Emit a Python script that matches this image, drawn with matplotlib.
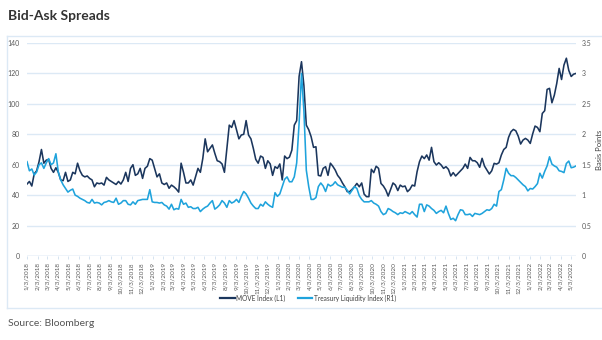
import matplotlib
matplotlib.use('Agg')
import matplotlib.pyplot as plt
from matplotlib.lines import Line2D
import pandas as pd

plt.rcParams['font.family'] = ['Lato', 'DejaVu Sans']

# ---- data (weekly observations) ----
start_date = '2018-01-03'

move_index = [
    47.3, 49, 46, 54, 56, 62, 70, 61, 63, 63.5,
    57.6, 55, 58, 55, 50, 49.5, 55, 49, 50, 55,
    54, 61, 56, 53, 52, 52.6, 51, 50, 45.5, 48, 47.5, 48,
    46.6, 51.7, 50, 49, 48, 47, 49, 47.3, 50, 55,
    49, 57.6, 60, 53, 54, 57.6, 51, 57.6, 59, 64,
    63, 57.6, 52, 54, 48, 47, 48, 44.5, 46.6, 45.5,
    44, 42, 61, 55, 48, 48, 50, 46.6, 52, 57.6,
    55, 64, 77, 68.5, 70.7, 73, 67.5, 62.6, 62, 60.5,
    55, 70.7, 86, 84.5, 89, 83, 77, 79.5, 80, 89,
    79.5, 77, 70.7, 63.5, 61, 65.7, 64.8, 57.6, 62.6, 60.5,
    53, 58.7, 57.6, 60.5, 50, 65.7, 64, 65, 69.6,
    86, 89, 118, 127.7, 112, 86, 83, 78.4, 71.4, 71.8,
    53, 52.6, 57.6, 58.7, 53, 61, 59, 56.5, 53, 51,
    48, 45.5, 42.3, 42.3, 43.8, 45.5, 47.7, 45.5, 48, 40.7,
    39, 39, 57, 54.8, 59, 57.6, 47.7, 46, 43.4,
    39.4, 43.8, 48, 46.6, 43, 46.6, 45.5, 46, 42.3, 43.8,
    46.6, 46, 55.4, 62, 65.7, 64, 66.4, 63, 71.4, 62,
    59.8, 61.3, 59.8, 57.6, 58.7, 57, 52.6, 54.8, 52.6, 54.3,
    56, 57.6, 60.4, 57.6, 64.8, 62.6, 62.6, 61.3, 58.3, 64.2,
    59.1, 56.5, 53.9, 56, 60.9, 60.4, 61.3, 66.4, 70, 71.4,
    78, 81.7, 83.2, 82.3, 78.8, 73.6, 76.2, 77.3, 76.2, 74,
    80.2, 85.4, 84.5, 81.7, 93.7, 95.5, 109.5, 110.2, 100.7, 105.7,
    113.4, 123.3, 116, 125.5, 130, 122,
    118, 119.5, 120,
]

liquidity_index = [
    1.55, 1.40, 1.43, 1.33, 1.38, 1.50, 1.53, 1.44, 1.53, 1.60,
    1.50, 1.53, 1.68, 1.38, 1.25, 1.17, 1.11, 1.05, 1.08, 1.10,
    1.00, 0.98, 0.95, 0.93, 0.91, 0.88, 0.87, 0.93, 0.87, 0.88,
    0.87, 0.84, 0.88, 0.89, 0.91, 0.89, 0.88, 0.95, 0.85, 0.87,
    0.91, 0.91, 0.85, 0.84, 0.89, 0.85, 0.91, 0.92, 0.93, 0.93,
    0.93, 1.09, 0.89, 0.88, 0.88, 0.87, 0.88, 0.84, 0.82, 0.77,
    0.85, 0.76, 0.78, 0.77, 0.93, 0.85, 0.87, 0.80, 0.81, 0.78,
    0.78, 0.80,
    0.73, 0.77, 0.80, 0.82, 0.87, 0.91, 0.77, 0.80, 0.84, 0.91,
    0.87, 0.80, 0.91, 0.87, 0.89, 0.93, 0.88, 0.98, 1.06, 1.02,
    0.95, 0.87, 0.82, 0.78, 0.78, 0.85, 0.82, 0.89, 0.85, 0.82,
    0.80, 1.04, 0.98, 1.02, 1.14, 1.26, 1.30, 1.22, 1.22, 1.30,
    1.53, 2.18, 3.00, 2.38, 1.41, 1.14, 0.93, 0.93, 0.96,
    1.14, 1.20, 1.15, 1.06, 1.18, 1.15, 1.17, 1.22, 1.17, 1.15,
    1.13, 1.13, 1.08, 1.02, 1.08, 1.14, 1.11, 0.99, 0.93, 0.89,
    0.89, 0.89, 0.91, 0.87, 0.85, 0.82, 0.73, 0.68, 0.70,
    0.78, 0.76, 0.73, 0.71, 0.68, 0.71, 0.70, 0.73, 0.71, 0.69,
    0.73, 0.68, 0.64, 0.85, 0.85, 0.73, 0.84, 0.82, 0.78, 0.75,
    0.70, 0.73, 0.75, 0.71, 0.82, 0.70, 0.60, 0.62, 0.58, 0.68,
    0.76, 0.75, 0.68, 0.68, 0.69, 0.65, 0.70, 0.69, 0.68, 0.70,
    0.73, 0.76, 0.75, 0.78, 0.85, 0.82, 1.06, 1.09, 1.25, 1.44,
    1.36, 1.32, 1.32, 1.29, 1.25, 1.21, 1.17, 1.14, 1.07, 1.11,
    1.10, 1.14, 1.19, 1.36, 1.28, 1.39, 1.48, 1.63, 1.51, 1.48,
    1.46, 1.40, 1.39, 1.37, 1.52,
    1.56, 1.45, 1.46, 1.48,
]

series_names = ['MOVE Index (L1)', 'Treasury Liquidity Index (R1)']
left_ticks = [0, 20, 40, 60, 80, 100, 120, 140]
right_ticks = [0, 0.5, 1, 1.5, 2, 2.5, 3, 3.5]
right_tick_labels = ['0', '0.5', '1', '1.5', '2', '2.5', '3', '3.5']
first_tick, last_tick = '2018-01-03', '2022-05-03'

n = min(len(move_index), len(liquidity_index))
dates = pd.date_range(start_date, periods=n, freq='7D')
month_ticks = pd.date_range(first_tick, last_tick, freq=pd.DateOffset(months=1))
month_labels = [f"{d.month}/{d.day}/{d.year}" for d in month_ticks]

# ---- style ----
W, H = 602, 340
dark = '#1b365d'
light = '#1fa3dc'
grid_c = '#dce9f5'
txt_c = '#595959'

fig = plt.figure(figsize=(W / 100, H / 100), dpi=100)
fig.patch.set_facecolor('white')

ax = fig.add_axes([27 / W, 84 / H, 549 / W, 213 / H])
ax2 = ax.twinx()

ax.plot(dates, move_index[:n], color=dark, lw=1.15, label=series_names[0], zorder=3)
ax2.plot(dates, liquidity_index[:n], color=light, lw=1.15, label=series_names[1], zorder=3)

ax.set_xlim(dates[0], dates[-1])
ax.set_ylim(0, 140)
ax2.set_ylim(0, 3.5)

ax.set_yticks(left_ticks)
ax.set_yticklabels([str(t) for t in left_ticks])
ax2.set_yticks(right_ticks)
ax2.set_yticklabels(right_tick_labels)

ax.yaxis.grid(True, color=grid_c, lw=1.0)
ax.set_axisbelow(True)

for a in (ax, ax2):
    for s in ('top', 'left', 'right', 'bottom'):
        a.spines[s].set_visible(False)

ax.axhline(0, color='#cfdeee', lw=1.0, zorder=2)

ax.set_xticks(month_ticks)
ax.set_xticklabels(month_labels, rotation=90, fontsize=4.6, color=txt_c)
ax.tick_params(axis='x', length=2.5, width=0.6, color='#cfdeee', pad=2)
ax.tick_params(axis='y', length=0, labelsize=5, labelcolor=txt_c, pad=5)
ax2.tick_params(axis='y', length=0, labelsize=5, labelcolor=txt_c, pad=4)

ax2.set_ylabel('Basis Points', fontsize=5.5, color='#404040', labelpad=3)

handles = [Line2D([], [], color=dark, lw=1.6), Line2D([], [], color=light, lw=1.6)]
fig.legend(handles, series_names, loc='center', bbox_to_anchor=(308 / W, 1 - 298 / H),
           ncol=2, frameon=False, fontsize=4.7, handlelength=2.2, handletextpad=0.2,
           columnspacing=2.0, labelcolor='#404040')

fig.text(8 / W, 1 - 16 / H, 'Bid-Ask Spreads', fontsize=10, fontweight='bold',
         color='#333333', va='center', ha='left')
fig.text(8 / W, 1 - 323 / H, 'Source: Bloomberg', fontsize=7.5, color='#555555',
         va='center', ha='left')

# panel border
fig.add_artist(Line2D([7 / W, 1], [1 - 35.5 / H] * 2, color=grid_c, lw=1.0))
fig.add_artist(Line2D([7 / W] * 2, [1 - 35.5 / H, 1 - 308 / H], color=grid_c, lw=1.0))
fig.add_artist(Line2D([7 / W, 1], [1 - 308 / H] * 2, color=grid_c, lw=1.0))

fig.savefig('out.png', dpi=100, facecolor='white')
